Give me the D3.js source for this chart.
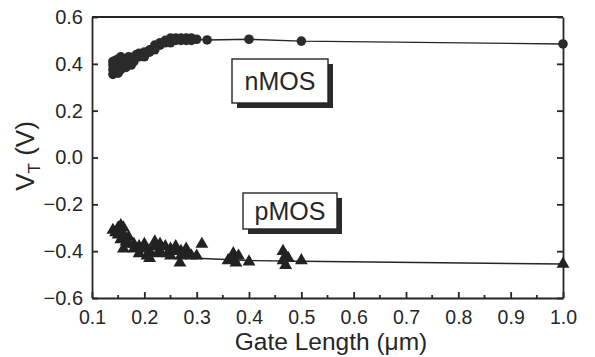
<!DOCTYPE html>
<html>
<head>
<meta charset="utf-8">
<script src="https://cdn.jsdelivr.net/npm/d3@7"></script>
<style>
  body { margin: 0; background: #fff; }
  text { font-family: "Liberation Sans", Arial, sans-serif; fill: #262626; }
</style>
</head>
<body>
<div id="chart"></div>
<script>
// nMOS threshold voltage vs gate length (um, V)
var nmosL = [0.14, 0.14, 0.14, 0.14, 0.145, 0.145, 0.145, 0.15, 0.15, 0.15, 0.15, 0.155, 0.155, 0.155,
  0.16, 0.16, 0.16, 0.165, 0.165, 0.17, 0.17, 0.17, 0.175, 0.18, 0.18, 0.18, 0.185, 0.19, 0.19, 0.2, 0.2, 0.2,
  0.21, 0.21, 0.22, 0.22, 0.22, 0.23, 0.23, 0.24, 0.24, 0.25, 0.25, 0.25, 0.26, 0.26,
  0.27, 0.27, 0.27, 0.28, 0.28, 0.29, 0.29, 0.29, 0.3, 0.32, 0.4, 0.5, 1.0];
var nmosVt = [0.355, 0.375, 0.395, 0.41, 0.37, 0.39, 0.415, 0.38, 0.40, 0.42, 0.36, 0.40, 0.43, 0.375,
  0.39, 0.41, 0.42, 0.385, 0.405, 0.40, 0.42, 0.43, 0.395, 0.41, 0.43, 0.42, 0.44, 0.43, 0.445, 0.44, 0.45, 0.43,
  0.45, 0.46, 0.47, 0.48, 0.46, 0.48, 0.49, 0.50, 0.49, 0.50, 0.51, 0.49, 0.50, 0.51,
  0.50, 0.51, 0.505, 0.50, 0.51, 0.505, 0.51, 0.50, 0.505, 0.502, 0.505, 0.497, 0.485];

// pMOS threshold voltage vs gate length
var pmosL = [0.14, 0.145, 0.15, 0.15, 0.155, 0.155, 0.155, 0.16, 0.16, 0.16, 0.165, 0.17, 0.17, 0.18, 0.18,
  0.19, 0.19, 0.2, 0.2, 0.205, 0.21, 0.21, 0.22, 0.22, 0.225, 0.23, 0.23, 0.24, 0.245, 0.25, 0.25, 0.26, 0.26,
  0.268, 0.27, 0.27, 0.28, 0.28, 0.29, 0.3, 0.31, 0.36, 0.37, 0.37, 0.375, 0.38, 0.4,
  0.465, 0.465, 0.47, 0.47, 0.475, 0.5, 1.0];
var pmosVt = [-0.31, -0.32, -0.30, -0.33, -0.29, -0.31, -0.35, -0.30, -0.33, -0.39, -0.36, -0.34, -0.37, -0.37, -0.39,
  -0.38, -0.41, -0.37, -0.39, -0.42, -0.40, -0.43, -0.36, -0.38, -0.41, -0.37, -0.40, -0.38, -0.41, -0.39, -0.42, -0.38, -0.40,
  -0.45, -0.40, -0.42, -0.41, -0.39, -0.42, -0.42, -0.37, -0.44, -0.41, -0.43, -0.45, -0.42, -0.445,
  -0.40, -0.44, -0.42, -0.46, -0.43, -0.44, -0.455];

// guide lines drawn through the long-channel devices
var nmosLineL = [0.3, 0.32, 0.4, 0.5, 1.0];
var nmosLineVt = [0.505, 0.502, 0.505, 0.497, 0.485];
var pmosLineL = [0.3, 0.4, 0.5, 1.0];
var pmosLineVt = [-0.43, -0.44, -0.443, -0.455];

var xTicks = [0.1, 0.2, 0.3, 0.4, 0.5, 0.6, 0.7, 0.8, 0.9, 1.0];
var yTicks = [-0.6, -0.4, -0.2, 0.0, 0.2, 0.4, 0.6];

var svgWidth = 595, svgHeight = 357;
var margin = { top: 17, right: 32, bottom: 59, left: 92 };
var width = svgWidth - margin.left - margin.right;
var height = svgHeight - margin.top - margin.bottom;

var svg = d3.select("#chart").append("svg")
  .attr("width", svgWidth)
  .attr("height", svgHeight);

var chartGroup = svg.append("g")
  .attr("transform", `translate(${margin.left}, ${margin.top})`);

var x = d3.scaleLinear().domain([0.1, 1.0]).range([0, width]);
var y = d3.scaleLinear().domain([-0.6, 0.6]).range([height, 0]);

var ink = "#262626";

// bottom axis, ticks inward
var bottomAxis = d3.axisBottom(x).tickValues(xTicks).tickFormat(d3.format(".1f"))
  .tickSizeInner(-6).tickSizeOuter(0).tickPadding(12);
var xAxis = chartGroup.append("g")
  .attr("transform", `translate(0, ${height})`)
  .call(bottomAxis);
xAxis.selectAll("text").attr("font-size", 19.5);

// minor ticks on x
chartGroup.append("g").selectAll("line")
  .data(xTicks.slice(0, -1).map(d => d + 0.05))
  .enter().append("line")
  .attr("x1", d => x(d)).attr("x2", d => x(d))
  .attr("y1", height).attr("y2", height - 3)
  .attr("stroke", ink).attr("stroke-width", 1.2);

var leftAxis = d3.axisLeft(y).tickValues(yTicks).tickFormat(d3.format(".1f"))
  .tickSizeInner(-6).tickSizeOuter(0).tickPadding(9);
var yAxis = chartGroup.append("g").call(leftAxis);
yAxis.selectAll("text").attr("font-size", 20);

var rightAxis = d3.axisRight(y).tickValues(yTicks).tickFormat("")
  .tickSizeInner(-6).tickSizeOuter(0);
chartGroup.append("g").attr("transform", `translate(${width}, 0)`).call(rightAxis);

chartGroup.append("line")
  .attr("x1", 0).attr("x2", width).attr("y1", 0).attr("y2", 0);

chartGroup.selectAll(".domain, .tick line, line")
  .attr("stroke", ink).attr("stroke-width", 1.8);
chartGroup.selectAll(".tick text").attr("fill", ink)
  .attr("font-family", "'Liberation Sans', Arial, sans-serif");

// guide lines
var line = d3.line().x(d => x(d[0])).y(d => y(d[1]));
chartGroup.append("path")
  .datum(nmosLineL.map((d, i) => [d, nmosLineVt[i]]))
  .attr("d", line).attr("fill", "none").attr("stroke", ink).attr("stroke-width", 1.4);
chartGroup.append("path")
  .datum(pmosLineL.map((d, i) => [d, pmosLineVt[i]]))
  .attr("d", line).attr("fill", "none").attr("stroke", ink).attr("stroke-width", 1.4);

// nMOS circles
chartGroup.append("g").selectAll("circle")
  .data(nmosL.map((d, i) => [d, nmosVt[i]]))
  .enter().append("circle")
  .attr("cx", d => x(d[0]))
  .attr("cy", d => y(d[1]))
  .attr("r", 4.8)
  .attr("fill", "#2b2b2b");

// pMOS triangles
var tri = d3.symbol().type(d3.symbolTriangle).size(72);
chartGroup.append("g").selectAll("path")
  .data(pmosL.map((d, i) => [d, pmosVt[i]]))
  .enter().append("path")
  .attr("d", tri)
  .attr("transform", d => `translate(${x(d[0])}, ${y(d[1])})`)
  .attr("fill", "#222");

// label boxes with drop shadow
function labelBox(cx, cy, w, h, txt) {
  var g = svg.append("g");
  g.append("rect").attr("x", cx - w / 2 + 5).attr("y", cy - h / 2 + 5)
    .attr("width", w).attr("height", h).attr("fill", "#2a2a2a");
  g.append("rect").attr("x", cx - w / 2).attr("y", cy - h / 2)
    .attr("width", w).attr("height", h)
    .attr("fill", "#fff").attr("stroke", ink).attr("stroke-width", 1.4);
  g.append("text").attr("x", cx).attr("y", cy + 9)
    .attr("text-anchor", "middle").attr("font-size", 25)
    .text(txt);
}
labelBox(280, 81, 96, 44, "nMOS");
labelBox(290, 211, 94, 36, "pMOS");

// axis titles
svg.append("text")
  .attr("x", 331).attr("y", 350)
  .attr("text-anchor", "middle").attr("font-size", 24.5)
  .text("Gate Length (\u03bcm)");

var yt = svg.append("text")
  .attr("transform", "translate(34, 156) rotate(-90)")
  .attr("text-anchor", "middle").attr("font-size", 26);
yt.append("tspan").text("V");
yt.append("tspan").attr("font-size", 17).attr("dy", 6).text("T");
yt.append("tspan").attr("dy", -6).text(" (V)");
</script>
</body>
</html>
